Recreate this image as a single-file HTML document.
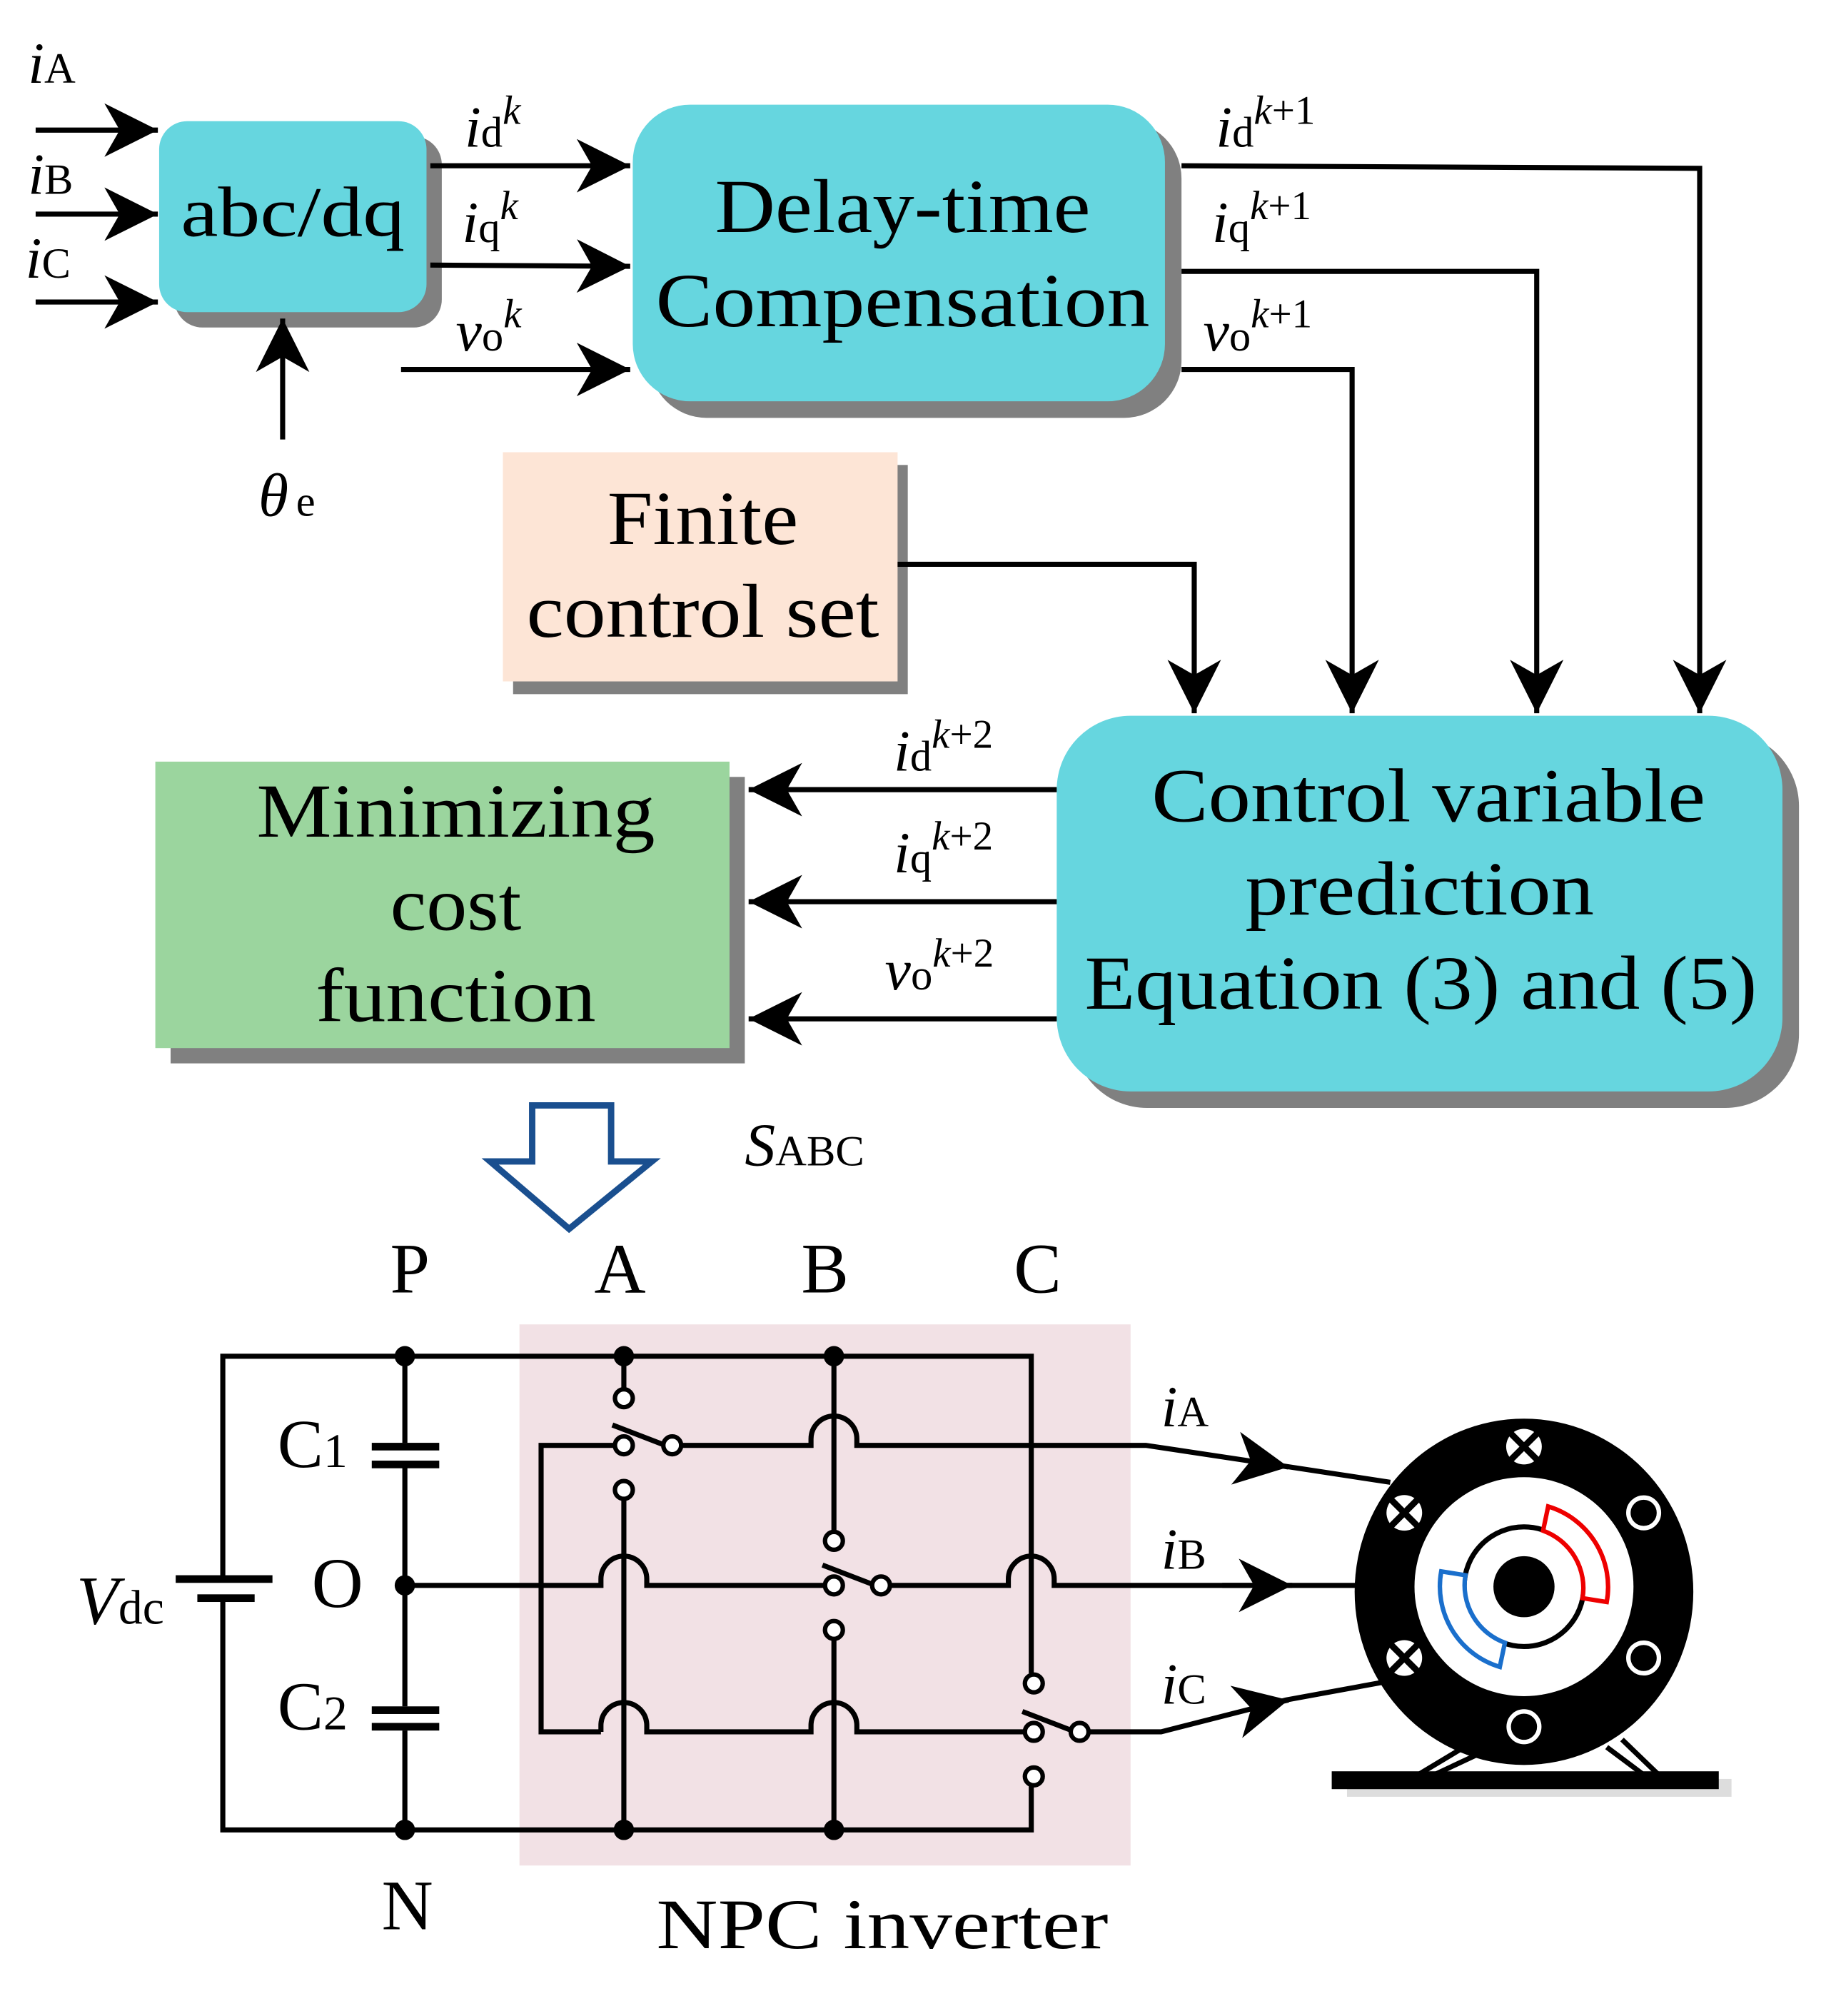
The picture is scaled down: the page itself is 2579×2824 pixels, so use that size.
<!DOCTYPE html>
<html><head><meta charset="utf-8"><style>
html,body{margin:0;padding:0;background:#fff}
svg{display:block}
text{font-family:"Liberation Serif",serif;fill:#000}
</style></head><body>
<svg width="2579" height="2824" viewBox="0 0 1446 1583" xmlns="http://www.w3.org/2000/svg">
<defs>
<marker id="ah" markerUnits="userSpaceOnUse" markerWidth="46" markerHeight="46" refX="42" refY="21" orient="auto">
<path d="M0,0 L42,21 L0,42 L12,21 z" fill="#000"/>
</marker>
</defs>
<rect width="1446" height="1583" fill="#fff"/>

<!-- abc/dq -->
<rect x="137" y="107" width="210" height="150" rx="22" fill="#808080"/>
<rect x="125" y="95" width="210" height="150" rx="22" fill="#66d6df"/>
<text x="230" y="185" font-size="56" text-anchor="middle" textLength="176" lengthAdjust="spacingAndGlyphs">abc/dq</text>

<!-- Delay-time -->
<rect x="510" y="95" width="418" height="233" rx="45" fill="#808080"/>
<rect x="497" y="82" width="418" height="233" rx="45" fill="#66d6df"/>
<text x="709" y="182" font-size="60" text-anchor="middle" textLength="295" lengthAdjust="spacingAndGlyphs">Delay-time</text>
<text x="709" y="256" font-size="60" text-anchor="middle" textLength="388" lengthAdjust="spacingAndGlyphs">Compensation</text>

<!-- Finite -->
<rect x="403" y="365" width="310" height="180" fill="#808080"/>
<rect x="395" y="355" width="310" height="180" fill="#fde5d6"/>
<text x="552" y="427" font-size="60" text-anchor="middle" textLength="150" lengthAdjust="spacingAndGlyphs">Finite</text>
<text x="552" y="500" font-size="60" text-anchor="middle" textLength="277" lengthAdjust="spacingAndGlyphs">control set</text>

<!-- Control variable -->
<rect x="843" y="575" width="570" height="295" rx="58" fill="#808080"/>
<rect x="830" y="562" width="570" height="295" rx="58" fill="#66d6df"/>
<text x="1122" y="645" font-size="60" text-anchor="middle" textLength="435" lengthAdjust="spacingAndGlyphs">Control variable</text>
<text x="1115" y="718" font-size="60" text-anchor="middle" textLength="274" lengthAdjust="spacingAndGlyphs">prediction</text>
<text x="1116" y="792" font-size="60" text-anchor="middle" textLength="528" lengthAdjust="spacingAndGlyphs">Equation (3) and (5)</text>

<!-- Minimizing -->
<rect x="134" y="610" width="451" height="225" fill="#808080"/>
<rect x="122" y="598" width="451" height="225" fill="#9bd59e"/>
<text x="358" y="657" font-size="60" text-anchor="middle" textLength="313" lengthAdjust="spacingAndGlyphs">Minimizing</text>
<text x="358" y="730" font-size="60" text-anchor="middle" textLength="103" lengthAdjust="spacingAndGlyphs">cost</text>
<text x="358" y="802" font-size="60" text-anchor="middle" textLength="220" lengthAdjust="spacingAndGlyphs">function</text>

<g stroke="#000" stroke-width="4" fill="none">
<line x1="28" y1="102" x2="124" y2="102" marker-end="url(#ah)"/>
<line x1="28" y1="168" x2="124" y2="168" marker-end="url(#ah)"/>
<line x1="28" y1="237" x2="124" y2="237" marker-end="url(#ah)"/>
<line x1="222" y1="345" x2="222" y2="250" marker-end="url(#ah)"/>
<line x1="338" y1="130" x2="495" y2="130" marker-end="url(#ah)"/>
<line x1="338" y1="208" x2="495" y2="209" marker-end="url(#ah)"/>
<line x1="315" y1="290" x2="495" y2="290" marker-end="url(#ah)"/>
<polyline points="928,130 1335,132 1335,560" marker-end="url(#ah)"/>
<polyline points="928,213 1207,213 1207,560" marker-end="url(#ah)"/>
<polyline points="928,290 1062,290 1062,560" marker-end="url(#ah)"/>
<polyline points="705,443 938,443 938,560" marker-end="url(#ah)"/>
<line x1="830" y1="620" x2="588" y2="620" marker-end="url(#ah)"/>
<line x1="830" y1="708" x2="588" y2="708" marker-end="url(#ah)"/>
<line x1="830" y1="800" x2="588" y2="800" marker-end="url(#ah)"/>
</g>

<!-- labels top -->
<g font-style="italic">
<text x="22" y="65" font-size="46">i<tspan font-style="normal" font-size="34">A</tspan></text>
<text x="22" y="152" font-size="46">i<tspan font-style="normal" font-size="34">B</tspan></text>
<text x="20" y="218" font-size="46">i<tspan font-style="normal" font-size="34">C</tspan></text>
<text x="203" y="405" font-size="48">θ<tspan font-style="normal" font-size="34" dx="6">e</tspan></text>
<text x="365" y="115" font-size="46">i<tspan font-style="normal" font-size="34">d</tspan><tspan font-size="32" dy="-18">k</tspan></text>
<text x="363" y="190" font-size="46">i<tspan font-style="normal" font-size="34">q</tspan><tspan font-size="32" dy="-18">k</tspan></text>
<text x="358" y="275" font-size="46">v<tspan font-style="normal" font-size="34">o</tspan><tspan font-size="32" dy="-18">k</tspan></text>
<text x="955" y="115" font-size="46">i<tspan font-style="normal" font-size="34">d</tspan><tspan font-size="32" dy="-18">k</tspan><tspan font-style="normal" font-size="32">+1</tspan></text>
<text x="952" y="190" font-size="46">i<tspan font-style="normal" font-size="34">q</tspan><tspan font-size="32" dy="-18">k</tspan><tspan font-style="normal" font-size="32">+1</tspan></text>
<text x="945" y="275" font-size="46">v<tspan font-style="normal" font-size="34">o</tspan><tspan font-size="32" dy="-18">k</tspan><tspan font-style="normal" font-size="32">+1</tspan></text>
<text x="702" y="605" font-size="46">i<tspan font-style="normal" font-size="34">d</tspan><tspan font-size="32" dy="-18">k</tspan><tspan font-style="normal" font-size="32">+2</tspan></text>
<text x="702" y="685" font-size="46">i<tspan font-style="normal" font-size="34">q</tspan><tspan font-size="32" dy="-18">k</tspan><tspan font-style="normal" font-size="32">+2</tspan></text>
<text x="695" y="777" font-size="46">v<tspan font-style="normal" font-size="34">o</tspan><tspan font-size="32" dy="-18">k</tspan><tspan font-style="normal" font-size="32">+2</tspan></text>
<text x="585" y="915" font-size="48">S<tspan font-style="normal" font-size="34">ABC</tspan></text>
</g>

<!-- hollow arrow -->
<path d="M418,868 L480,868 L480,912 L512,912 L447,965 L385,912 L418,912 Z" fill="#fff" stroke="#1a4f8f" stroke-width="5" stroke-linejoin="miter"/>

<!-- circuit labels -->
<g font-size="56" text-anchor="middle">
<text x="322" y="1015">P</text><text x="487" y="1015">A</text><text x="648" y="1015">B</text><text x="815" y="1015">C</text>
<text x="320" y="1515">N</text>
<text x="693" y="1530" textLength="355" lengthAdjust="spacingAndGlyphs">NPC inverter</text>
<text x="265" y="1262">O</text>
</g>
<text x="218" y="1152" font-size="54">C<tspan font-size="38">1</tspan></text>
<text x="218" y="1358" font-size="54">C<tspan font-size="38">2</tspan></text>
<text x="60" y="1275" font-size="54" font-style="italic">V<tspan font-style="normal" font-size="38">dc</tspan></text>

<rect x="408" y="1040" width="480" height="425" fill="#f2e1e5"/>

<g stroke="#000" stroke-width="4" fill="none">
<!-- outer -->
<polyline points="175,1240 175,1065 810,1065 810,1314"/>
<polyline points="175,1255 175,1437 810,1437 810,1402"/>
<line x1="318" y1="1065" x2="318" y2="1133"/>
<line x1="318" y1="1152" x2="318" y2="1340"/>
<line x1="318" y1="1359" x2="318" y2="1437"/>
<!-- vertical A -->
<line x1="490" y1="1065" x2="490" y2="1091"/>
<line x1="490" y1="1177" x2="490" y2="1437"/>
<!-- vertical B -->
<line x1="655" y1="1065" x2="655" y2="1203"/>
<line x1="655" y1="1287" x2="655" y2="1437"/>
<!-- left neutral vertical -->
<polyline points="483,1135 425,1135 425,1360 472,1360"/>
<!-- row A -->
<path d="M535,1135 H637 V1130 A18,18 0 0 1 673,1130 V1135 H900 L1000,1150 L1092,1164"/>
<!-- row B -->
<path d="M318,1245 H472 V1240 A18,18 0 0 1 508,1240 V1245 H648"/>
<path d="M699,1245 H792 V1240 A18,18 0 0 1 828,1240 V1245 H1068"/>
<!-- row C -->
<path d="M472,1360 V1355 A18,18 0 0 1 508,1355 V1360 H637 V1355 A18,18 0 0 1 673,1355 V1360 H805"/>
<path d="M855,1360 H912 L1010,1335 L1092,1320"/>
<!-- switch blades -->
<line x1="481" y1="1119" x2="520" y2="1134"/>
<line x1="646" y1="1229" x2="685" y2="1244"/>
<line x1="803" y1="1344" x2="842" y2="1359"/>
</g>
<line x1="1000" y1="1150" x2="1012" y2="1152" stroke="#000" stroke-width="4" marker-end="url(#ah)"/>
<line x1="960" y1="1245" x2="1015" y2="1245" stroke="#000" stroke-width="4" marker-end="url(#ah)"/>
<line x1="990" y1="1340" x2="1012" y2="1335" stroke="#000" stroke-width="4" marker-end="url(#ah)"/>

<!-- capacitors & battery -->
<g fill="#000">
<rect x="292" y="1133" width="53" height="6"/><rect x="292" y="1147" width="53" height="6"/>
<rect x="292" y="1340" width="53" height="6"/><rect x="292" y="1353" width="53" height="6"/>
<rect x="138" y="1237" width="76" height="6"/><rect x="155" y="1252" width="45" height="6"/>
<circle cx="318" cy="1065" r="8"/><circle cx="318" cy="1245" r="8"/><circle cx="318" cy="1437" r="8"/>
<circle cx="490" cy="1065" r="8"/><circle cx="655" cy="1065" r="8"/>
<circle cx="490" cy="1437" r="8"/><circle cx="655" cy="1437" r="8"/>
</g>
<g fill="#fff" stroke="#000" stroke-width="3.5">
<circle cx="490" cy="1098" r="7"/><circle cx="490" cy="1135" r="7"/><circle cx="528" cy="1135" r="7"/><circle cx="490" cy="1170" r="7"/>
<circle cx="655" cy="1210" r="7"/><circle cx="655" cy="1245" r="7"/><circle cx="692" cy="1245" r="7"/><circle cx="655" cy="1280" r="7"/>
<circle cx="812" cy="1322" r="7"/><circle cx="812" cy="1360" r="7"/><circle cx="848" cy="1360" r="7"/><circle cx="812" cy="1395" r="7"/>
</g>

<g font-style="italic">
<text x="912" y="1120" font-size="46">i<tspan font-style="normal" font-size="34">A</tspan></text>
<text x="912" y="1232" font-size="46">i<tspan font-style="normal" font-size="34">B</tspan></text>
<text x="912" y="1338" font-size="46">i<tspan font-style="normal" font-size="34">C</tspan></text>
</g>

<!-- motor -->
<rect x="1058" y="1397" width="302" height="14" fill="#ddd"/>
<rect x="1046" y="1391" width="304" height="14" fill="#000"/>
<g stroke="#000" stroke-width="4">
<line x1="1150" y1="1372" x2="1115" y2="1393"/><line x1="1160" y1="1378" x2="1128" y2="1393"/>
<line x1="1262" y1="1372" x2="1290" y2="1393"/><line x1="1274" y1="1366" x2="1302" y2="1393"/>
</g>
<ellipse cx="1197" cy="1250" rx="133" ry="136" fill="#000"/>
<circle cx="1197" cy="1246" r="86" fill="#fff"/>
<circle cx="1197" cy="1246" r="47" fill="none" stroke="#000" stroke-width="4"/>
<circle cx="1197" cy="1246" r="24" fill="#000"/>
<path d="M1212,1202 L1216,1183 A66,66 0 0 1 1262,1258 L1243,1255 A48,48 0 0 0 1212,1202 Z" fill="#fff" stroke="#e00" stroke-width="3.5"/>
<path d="M1182,1290 L1178,1309 A66,66 0 0 1 1132,1234 L1151,1237 A48,48 0 0 0 1182,1290 Z" fill="#fff" stroke="#1a6fcc" stroke-width="3.5"/>
<g fill="#fff">
<circle cx="1197" cy="1136" r="14"/><circle cx="1103" cy="1188" r="14"/><circle cx="1103" cy="1302" r="14"/>
</g>
<g stroke="#000" stroke-width="5">
<line x1="1187" y1="1126" x2="1207" y2="1146"/><line x1="1207" y1="1126" x2="1187" y2="1146"/>
<line x1="1093" y1="1178" x2="1113" y2="1198"/><line x1="1113" y1="1178" x2="1093" y2="1198"/>
<line x1="1093" y1="1292" x2="1113" y2="1312"/><line x1="1113" y1="1292" x2="1093" y2="1312"/>
</g>
<g fill="none" stroke="#fff" stroke-width="3.5">
<circle cx="1291" cy="1188" r="12"/><circle cx="1291" cy="1302" r="12"/><circle cx="1197" cy="1356" r="12"/>
</g>
</svg>
</body></html>
